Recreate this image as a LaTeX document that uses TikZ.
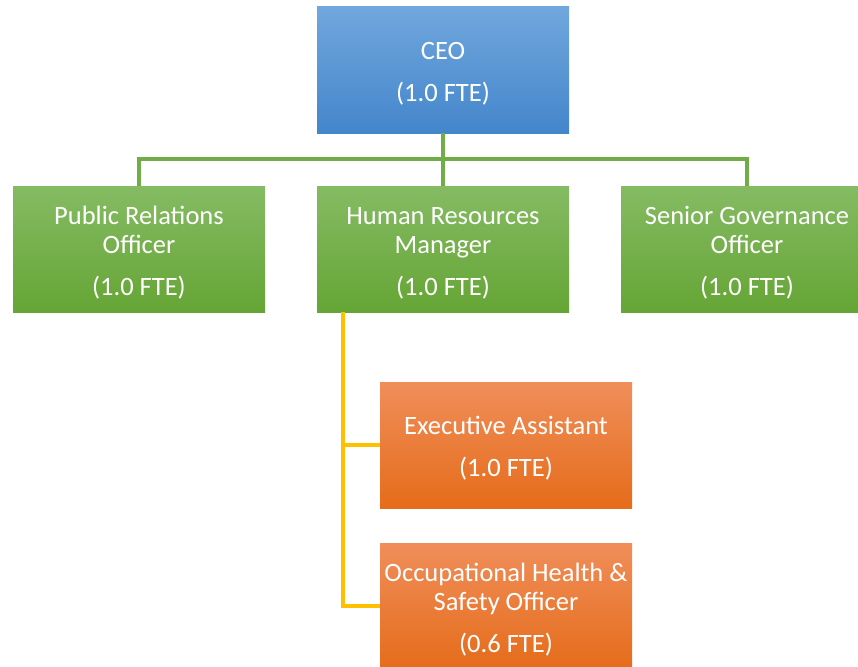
\documentclass[tikz,border=0pt]{standalone}
\usepackage{fontspec}
\setmainfont{Carlito}
\usetikzlibrary{calc}
\definecolor{bluetop}{HTML}{70A7DD}
\definecolor{bluebot}{HTML}{4486CB}
\definecolor{greentop}{HTML}{85BB63}
\definecolor{greenbot}{HTML}{65A535}
\definecolor{orangetop}{HTML}{F08E5A}
\definecolor{orangebot}{HTML}{E56C1A}
\definecolor{greenline}{HTML}{70AD47}
\definecolor{yellowline}{HTML}{FFC000}
\newcommand{\topstrut}{\rule{0pt}{25pt}}
\begin{document}
\begin{tikzpicture}[x=1pt,y=-1pt,
  box/.style={rectangle, inner sep=0pt, minimum width=252pt, minimum height=126pt,
    text=white, align=center, font=\fontsize{26.5}{29.5}\selectfont},
  bluebox/.style={box, top color=bluetop, bottom color=bluebot},
  greenbox/.style={box, top color=greentop, bottom color=greenbot},
  orangebox/.style={box, top color=orangetop, bottom color=orangebot},
  gline/.style={draw=greenline, line width=3.6pt},
  yline/.style={draw=yellowline, line width=3.6pt}]
\useasboundingbox (0,0) rectangle (858,666);
\fill[white] (0,0) rectangle (858,666);
\node[bluebox] (ceo) at (443,70) {\topstrut CEO\\[12pt](1.0 FTE)};
\node[greenbox] (pr) at (139,249) {\topstrut Public Relations\\Officer\\[12pt](1.0 FTE)};
\node[greenbox] (hr) at (443,249) {\topstrut Human Resources\\Manager\\[12pt](1.0 FTE)};
\node[greenbox] (sg) at (747,249) {\topstrut Senior Governance\\Officer\\[12pt](1.0 FTE)};
\node[orangebox] (ea) at (506,445) {\topstrut Executive Assistant\\[12pt](1.0 FTE)};
\node[orangebox] (ohs) at (506,606) {\topstrut Occupational Health \&\\Safety Officer\\[12pt](0.6 FTE)};
\coordinate (bus) at (443,159);
\draw[gline] (ceo.south) -- (bus);
\draw[gline] (pr.north) |- (bus) -| (sg.north);
\draw[gline] (bus) -- (hr.north);
\coordinate (ys) at ($(hr.south west)+(26,0)$);
\draw[yline] (ys) |- (ea.west);
\draw[yline] (ys) |- (ohs.west);
\end{tikzpicture}
\end{document}
